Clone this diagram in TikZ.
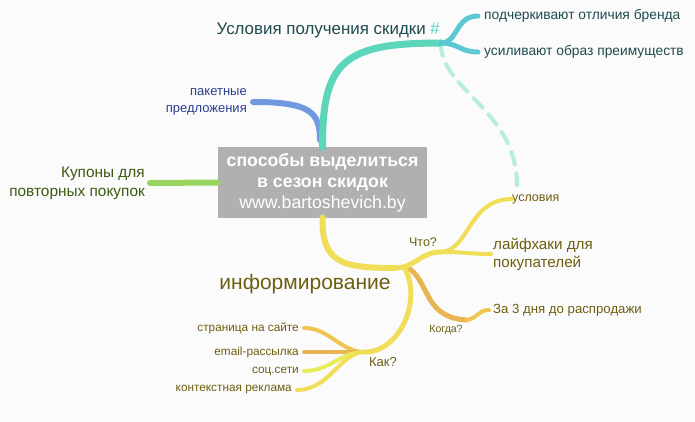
\documentclass[tikz,border=0pt]{standalone}
\usepackage{fontspec}
\setmainfont{Liberation Sans}
\definecolor{bgc}{HTML}{FBFBFB}
\definecolor{hubgray}{HTML}{B0B0B0}
\definecolor{tealmain}{HTML}{5CD6BA}
\definecolor{tealtwig}{HTML}{5BC8D3}
\definecolor{tealdash}{HTML}{B8EBE2}
\definecolor{tealtext}{HTML}{1E4B4E}
\definecolor{bluemain}{HTML}{7099E0}
\definecolor{bluetext}{HTML}{2B3F8F}
\definecolor{greenmain}{HTML}{9AD460}
\definecolor{greentext}{HTML}{3E5A12}
\definecolor{yelmain}{HTML}{F0DD58}
\definecolor{yelorange}{HTML}{E8B552}
\definecolor{yelgold}{HTML}{F0C552}
\definecolor{yellime}{HTML}{E6EE5C}
\definecolor{yeltext}{HTML}{6E5F10}

\begin{document}
\begin{tikzpicture}[x=1pt,y=-1pt,
    br/.style={line width=#1, line cap=round},
    lbl/.style={inner sep=0pt, font=\fontsize{12.5}{15}\selectfont},
    smalllbl/.style={lbl, anchor=east, text=yeltext, font=\fontsize{11.8}{13}\selectfont}]
\useasboundingbox[fill=bgc] (0,0) rectangle (695,422);

\node[fill=hubgray, text=white, minimum width=209pt, minimum height=70pt, align=center, inner sep=0pt,
      font=\fontsize{17.7}{21}\selectfont] (hub) at (322.5,182.5)
      {\textbf{способы выделиться}\\ \textbf{в сезон скидок}\\ www.bartoshevich.by};

\coordinate (tsplit) at (441,43);
\coordinate (podch) at (478,16);
\coordinate (usil) at (478,52);
\coordinate (bluestart) at (320,140);
\coordinate (paket) at (253,102);
\coordinate (kupon) at (150,183);
\coordinate (ysplit) at (395,268);
\coordinate (chto) at (441,252);
\coordinate (uslov) at (512,199);
\coordinate (layf) at (491,254);
\coordinate (kogda) at (467,320);
\coordinate (za3) at (489,310);
\coordinate (kak) at (365,352);
\coordinate (stran) at (304,328);
\coordinate (email) at (304,352);
\coordinate (socs) at (304,371);
\coordinate (kontext) at (297,390);

\node[lbl, anchor=east, text=tealtext, font=\fontsize{16.9}{19}\selectfont] (uslovtitle) at (440,30)
      {Условия получения скидки \textcolor{tealmain}{\#}};
\node[lbl, anchor=west, text=tealtext, font=\fontsize{13.8}{16}\selectfont] (podchtxt) at (484,16) {подчеркивают отличия бренда};
\node[lbl, anchor=west, text=tealtext, font=\fontsize{13.8}{16}\selectfont] (usiltxt) at (484,52) {усиливают образ преимуществ};
\node[lbl, anchor=east, align=right, text=bluetext, font=\fontsize{13}{17}\selectfont] (pakettxt) at (247,102)
      {пакетные\\предложения};
\node[lbl, anchor=east, align=right, text=greentext, font=\fontsize{15.4}{19}\selectfont] (kupontxt) at (145,183)
      {Купоны для\\повторных покупок};
\node[lbl, text=yeltext, font=\fontsize{21}{24}\selectfont] (informtxt) at (305,284) {информирование};
\node[lbl, text=yeltext] (chtotxt) at (423,242) {Что?};
\node[lbl, anchor=west, text=yeltext] (uslovtxt) at (512,199) {условия};
\node[lbl, anchor=west, align=left, text=yeltext, font=\fontsize{15.2}{18}\selectfont] (layftxt) at (493,254)
      {лайфхаки для\\покупателей};
\node[lbl, text=yeltext, font=\fontsize{10.5}{12}\selectfont] (kogdatxt) at (446,330) {Когда?};
\node[lbl, anchor=west, text=yeltext, font=\fontsize{13.2}{15}\selectfont] (za3txt) at (493,310) {За 3 дня до распродажи};
\node[lbl, text=yeltext, font=\fontsize{13}{15}\selectfont] (kaktxt) at (383,362) {Как?};
\node[smalllbl] (strantxt) at (299,328) {страница на сайте};
\node[smalllbl] (emailtxt) at (299,352) {email-рассылка};
\node[smalllbl] (socstxt) at (299,371) {соц.сети};
\node[smalllbl] (kontexttxt) at (292,390) {контекстная реклама};

\draw[tealdash, br=4, dash pattern=on 13pt off 9pt] (tsplit) .. controls (440,90) and (517,110) .. (517,185);
\draw[bluemain, br=6] (bluestart) .. controls (320,112) and (310,102) .. (paket);
\draw[tealmain, br=7] (hub.north) .. controls (322,60) and (345,43) .. (tsplit);
\draw[tealtwig, br=5] (tsplit) .. controls (458,43) and (455,16) .. (podch);
\draw[tealtwig, br=5] (tsplit) .. controls (458,43) and (460,52) .. (usil);
\draw[greenmain, br=6] (hub.west) -- (kupon);

\draw[yelorange, br=5] (410,269) .. controls (430,285) and (425,318) .. (kogda);
\draw[yelgold, br=4] (kogda) .. controls (478,318) and (478,310) .. (za3);
\draw[yelmain, br=6] (hub.south) .. controls (322,262) and (340,268) .. (ysplit);
\draw[yelmain, br=5] (ysplit) .. controls (415,268) and (420,252) .. (chto);
\draw[yelmain, br=4] (chto) .. controls (470,250) and (468,199) .. (uslov);
\draw[yelmain, br=4] (chto) .. controls (465,252) and (470,254) .. (layf);
\draw[yelmain, br=5] (405,269) .. controls (422,300) and (400,352) .. (kak);
\draw[yelgold, br=4] (kak) .. controls (340,352) and (330,328) .. (stran);
\draw[yelorange, br=4] (kak) -- (email);
\draw[yellime, br=4] (kak) .. controls (340,352) and (330,371) .. (socs);
\draw[yelmain, br=4] (kak) .. controls (340,352) and (330,390) .. (kontext);
\end{tikzpicture}
\end{document}
